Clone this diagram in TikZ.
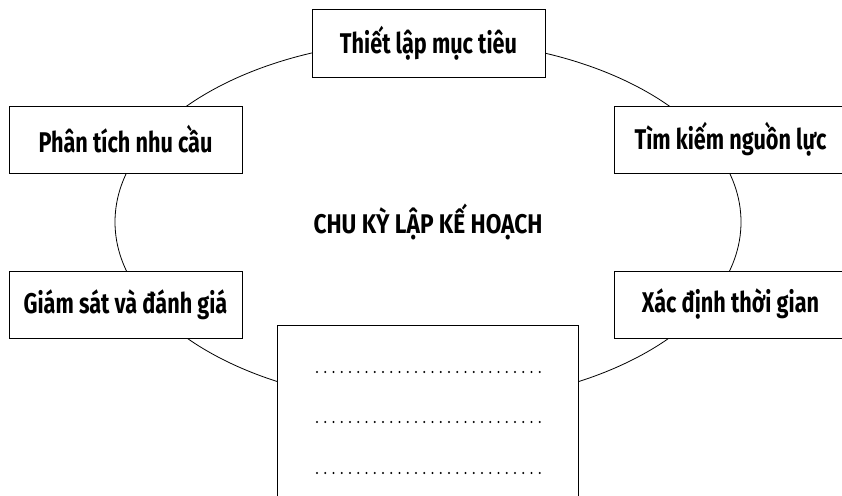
\documentclass[tikz,border=0pt]{standalone}
\usepackage{fontspec}
\setmainfont{Fira Sans}[FakeStretch=0.76]
\newfontfamily\titlefont{Fira Sans}[FakeStretch=0.84]
\usetikzlibrary{shapes.geometric}
\tikzset{
  stagebox/.style={draw, line width=1pt, fill=white, minimum width=233pt,
    minimum height=67pt, inner sep=0pt, font=\fontsize{28.5}{30}\selectfont\bfseries},
  cyclering/.style={ellipse, draw, line width=0.8pt, minimum width=626pt,
    minimum height=364pt, inner sep=0pt, font=\fontsize{27}{29}\titlefont\bfseries},
  notebox/.style={draw, line width=1pt, fill=white, minimum width=301pt,
    minimum height=200pt, anchor=north},
  fillline/.style={line width=2.2pt, line cap=round, dash pattern=on 0pt off 8.25pt}
}
\begin{document}
\begin{tikzpicture}[x=1pt, y=-1pt]
  \useasboundingbox (0,0) rectangle (842,495);
  \clip (0,0) rectangle (842,495);
  % the planning cycle with its title in the middle
  \node[cyclering] (cycle) at (428,222) {CHU KỲ LẬP KẾ HOẠCH};
  % the five stages placed on the ring
  \node[stagebox] (goal) at (428.5,43.5) {Thiết lập mục tiêu};
  \node[stagebox] (need) at (125.5,139.5) {Phân tích nhu cầu};
  \node[stagebox] (res) at (730.5,139.5) {Tìm kiếm nguồn lực};
  \node[stagebox] (eval) at (125.5,304.5) {Giám sát và đánh giá};
  \node[stagebox] (time) at (730.5,304.5) {Xác định thời gian};
  % open box to be filled in
  \node[notebox] (note) at (427.5,325) {};
  \coordinate (l1a) at (317,372); \coordinate (l1b) at (540,372);
  \coordinate (l2a) at (317,422); \coordinate (l2b) at (540,422);
  \coordinate (l3a) at (317,473); \coordinate (l3b) at (540,473);
  \draw[fillline] (l1a) -- (l1b);
  \draw[fillline] (l2a) -- (l2b);
  \draw[fillline] (l3a) -- (l3b);
\end{tikzpicture}
\end{document}
